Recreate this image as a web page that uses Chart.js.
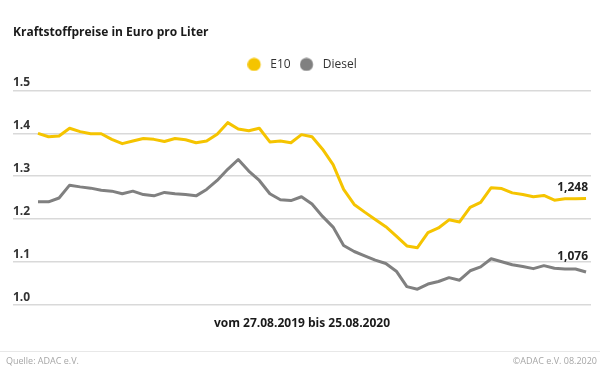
<!DOCTYPE html>
<html><head><meta charset="utf-8">
<script src="https://cdn.jsdelivr.net/npm/chart.js@4.4.0/dist/chart.umd.min.js"></script>
<style>html,body{margin:0;padding:0;background:#fff;}</style>
</head><body>
<canvas id="c" width="600" height="378"></canvas>
<script>
const dates = ['27.08.2019','03.09.2019','10.09.2019','17.09.2019','24.09.2019','01.10.2019','08.10.2019','15.10.2019','22.10.2019','29.10.2019','05.11.2019','12.11.2019','19.11.2019','26.11.2019','03.12.2019','10.12.2019','17.12.2019','24.12.2019','31.12.2019','07.01.2020','14.01.2020','21.01.2020','28.01.2020','04.02.2020','11.02.2020','18.02.2020','25.02.2020','03.03.2020','10.03.2020','17.03.2020','24.03.2020','31.03.2020','07.04.2020','14.04.2020','21.04.2020','28.04.2020','05.05.2020','12.05.2020','19.05.2020','26.05.2020','02.06.2020','09.06.2020','16.06.2020','23.06.2020','30.06.2020','07.07.2020','14.07.2020','21.07.2020','28.07.2020','04.08.2020','11.08.2020','18.08.2020','25.08.2020'];
const e10 = [1.400,1.392,1.394,1.412,1.404,1.399,1.399,1.386,1.376,1.382,1.388,1.386,1.381,1.388,1.385,1.378,1.382,1.398,1.425,
  1.410,1.406,1.412,1.380,1.382,1.378,
  1.397,1.392,1.363,1.327,1.269,1.234,1.216,1.199,1.182,1.160,1.137,1.133,1.168,1.179,1.198,1.193,1.227,1.239,1.273,1.271,1.261,1.257,1.252,1.255,1.244,1.247,1.247,1.248];
const diesel = [1.240,1.240,1.249,1.279,1.275,1.272,1.267,1.265,1.259,1.265,1.257,1.254,1.262,1.259,
  1.257,1.254,1.269,1.290,1.316,1.339,1.312,1.290,1.259,1.245,1.243,
  1.252,1.235,1.206,1.181,1.138,1.124,1.114,1.104,1.096,1.078,1.042,1.036,1.048,1.054,1.063,1.057,1.079,1.088,1.107,1.100,1.093,1.089,1.084,1.091,1.085,1.083,1.083,1.076];
const seriesNames = ['E10','Diesel'];
const endLabels = ['1,248','1,076'];
const yTicks = [1.0,1.1,1.2,1.3,1.4,1.5];
const titleText = 'Kraftstoffpreise in Euro pro Liter';
const rangeText = 'vom 27.08.2019 bis 25.08.2020';
const sourceText = 'Quelle: ADAC e.V.';
const copyText = '\u00A9ADAC e.V. 08.2020';

const FONT = '"Open Sans"';
const YELLOW = '#f5c400';
const GREY = '#808080';

// legend marker: filled circle at the left of a slightly wider image
function legendDot(color) {
  const cv = document.createElement('canvas');
  cv.width = 17; cv.height = 14;
  const c = cv.getContext('2d');
  c.fillStyle = color;
  c.beginPath(); c.arc(6.75, 7, 6.6, 0, Math.PI * 2); c.fill();
  return cv;
}

const endLabelPlugin = {
  id: 'endLabels',
  afterDatasetsDraw(chart) {
    const ctx = chart.ctx;
    const offs = [11, 15];
    ctx.save();
    ctx.font = 'bold 12px ' + FONT;
    ctx.fillStyle = '#222';
    ctx.textAlign = 'right';
    ctx.textBaseline = 'middle';
    chart.data.datasets.forEach((ds, i) => {
      const meta = chart.getDatasetMeta(i);
      const pt = meta.data[meta.data.length - 1];
      ctx.fillText(endLabels[i], pt.x + 2, pt.y - offs[i]);
    });
    ctx.restore();
  }
};

const footerPlugin = {
  id: 'footer',
  afterDraw(chart) {
    const ctx = chart.ctx;
    ctx.save();
    ctx.strokeStyle = '#e8e8e8';
    ctx.lineWidth = 1;
    ctx.beginPath(); ctx.moveTo(0, 351.5); ctx.lineTo(600, 351.5); ctx.stroke();
    ctx.font = '9px ' + FONT;
    ctx.fillStyle = '#a6a6a6';
    ctx.textBaseline = 'middle';
    ctx.textAlign = 'left';
    ctx.fillText(sourceText, 6, 361.5);
    ctx.textAlign = 'right';
    ctx.fillText(copyText, 597, 361.5);
    ctx.restore();
  }
};

new Chart(document.getElementById('c'), {
  type: 'line',
  data: {
    datasets: [
      { label: seriesNames[0], data: e10.map((v, i) => ({x: i, y: v})), borderColor: YELLOW, backgroundColor: YELLOW, pointStyle: legendDot(YELLOW) },
      { label: seriesNames[1], data: diesel.map((v, i) => ({x: i, y: v})), borderColor: GREY, backgroundColor: GREY, pointStyle: legendDot(GREY) }
    ]
  },
  options: {
    responsive: false,
    animation: false,
    layout: { padding: { left: 13, right: 9, top: 0, bottom: 47 } },
    elements: {
      line: { borderWidth: 3, tension: 0, borderJoinStyle: 'round' },
      point: { radius: 0, hoverRadius: 0 }
    },
    plugins: {
      tooltip: { enabled: false },
      title: {
        display: true, text: titleText, align: 'start', color: '#1a1a1a',
        font: { family: FONT, size: 12, weight: 'bold' }, padding: { top: 25, bottom: 10 }
      },
      legend: {
        display: true, position: 'top', align: 'center',
        labels: {
          usePointStyle: true, pointStyleWidth: 17, boxHeight: 12, padding: 9,
          color: '#333', font: { family: FONT, size: 12 }
        }
      }
    },
    scales: {
      x: {
        type: 'linear', min: -2.37, max: 52.47,
        grid: { display: false, drawTicks: false }, border: { display: false },
        ticks: { display: false },
        title: { display: true, text: rangeText, color: '#1a1a1a', font: { family: FONT, size: 12, weight: 'bold' }, padding: { top: 12, bottom: 0 } }
      },
      y: {
        min: 1.0, max: 1.5237,
        afterBuildTicks: (scale) => { scale.ticks = yTicks.map(v => ({ value: v })); },
        grid: { color: '#d9d9d9', lineWidth: 1.5, drawTicks: false },
        border: { display: false },
        ticks: {
          mirror: true, padding: 0, labelOffset: -7.5, color: '#333',
          font: { family: FONT, size: 12, weight: 'bold' },
          callback: (v) => Number(v).toFixed(1)
        }
      }
    }
  },
  plugins: [endLabelPlugin, footerPlugin]
});
</script>
</body></html>
